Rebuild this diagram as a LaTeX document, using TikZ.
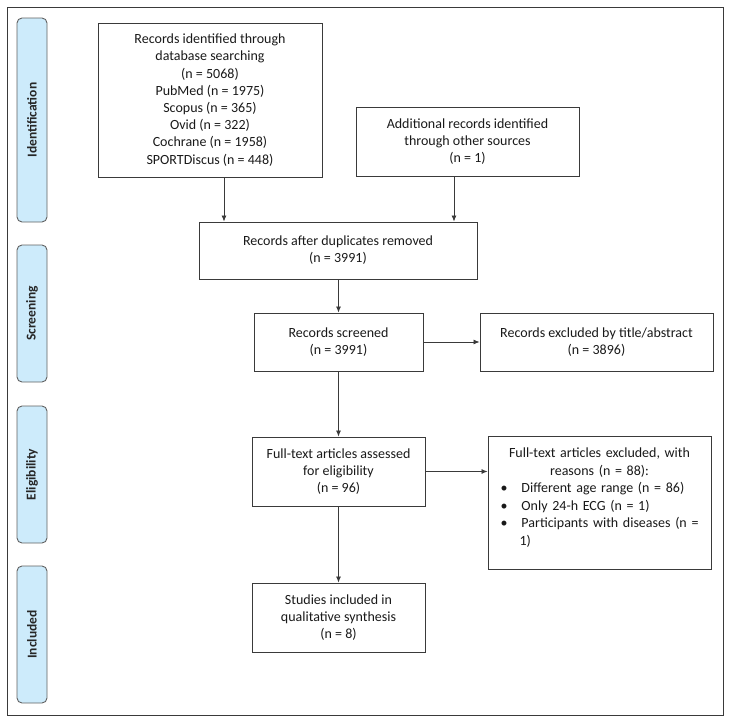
\documentclass[tikz,border=0pt]{standalone}
\usepackage{fontspec}
\setmainfont{Carlito}
\usetikzlibrary{arrows.meta}
\definecolor{tabblue}{HTML}{CDEBFB}
\definecolor{linegray}{HTML}{3A3A3A}

\begin{document}
\begin{tikzpicture}[x=1pt,y=-1pt,
    box/.style={draw=linegray, line width=0.9pt, align=center, inner sep=2pt,
        font=\fontsize{14}{17.2}\selectfont, text=black!90},
    tab/.style={draw=linegray!80, fill=tabblue, rounded corners=5pt, line width=0.9pt,
        rotate=90, minimum height=30pt, font=\bfseries\fontsize{13.5}{15}\selectfont, text=black!85},
    arr/.style={-{Latex[length=6pt,width=5pt]}, draw=linegray, line width=0.8pt}]
    \useasboundingbox (0,0) rectangle (733,723);

    % Outer frame
    \draw[linegray, line width=1pt] (7,7) rectangle (723,715);

    % Phase tabs
    \node[tab, minimum width=204pt] (tabid) at (32,120) {Identification};
    \node[tab, minimum width=137pt] (tabscr) at (32,313.5) {Screening};
    \node[tab, minimum width=137pt] (tabelig) at (32,474.5) {Eligibility};
    \node[tab, minimum width=137pt] (tabincl) at (32,634.5) {Included};

    % Identification
    \node[box, minimum width=224pt, minimum height=154pt] (dbsearch) at (210,100)
        {Records identified through\\ database searching\\ (n = 5068)\\ PubMed (n = 1975)\\
         Scopus (n = 365)\\ Ovid (n = 322)\\ Cochrane (n = 1958)\\ SPORTDiscus (n = 448)};
    \node[box, minimum width=223pt, minimum height=69pt] (other) at (467.5,141.5)
        {Additional records identified\\ through other sources\\ (n = 1)};

    % Screening
    \node[box, minimum width=278pt, minimum height=57pt] (dupl) at (338,250.5)
        {Records after duplicates removed\\ (n = 3991)};
    \node[box, minimum width=169pt, minimum height=58pt] (screened) at (338.5,342)
        {Records screened\\ (n = 3991)};
    \node[box, minimum width=233pt, minimum height=58pt] (exclabs) at (596.5,342)
        {Records excluded by title/abstract\\ (n = 3896)};

    % Eligibility
    \node[box, minimum width=173pt, minimum height=69pt] (fulltext) at (338.5,471.5)
        {Full-text articles assessed\\ for eligibility\\ (n = 96)};
    \node[box, minimum width=223pt, minimum height=133pt] (exclfull) at (599.5,502.5) {};
    \node[anchor=north, text width=210pt, inner sep=0pt, align=left,
        font=\fontsize{14}{17.6}\selectfont, text=black!90] (exclreasons)
        at ([yshift=-12pt]exclfull.north)
        {\centering Full-text articles excluded, with\\ reasons (n = 88):\par
         \raggedright
         \hspace*{6pt}\textbullet\hspace{14pt}Different age range (n = 86)\\
         \hspace*{6pt}\textbullet\hspace{14pt}Only 24-h ECG (n = 1)\\
         \hspace*{6pt}\textbullet\hspace{14pt}Participants with diseases (n =\\
         \hspace*{25pt}1)};

    % Included
    \node[box, minimum width=173pt, minimum height=69pt] (studies) at (338.5,617.5)
        {Studies included in\\ qualitative synthesis\\ (n = 8)};

    % Arrows
    \draw[arr] ([xshift=14pt]dbsearch.south) -- ([xshift=14pt]dbsearch.south |- dupl.north);
    \draw[arr] ([xshift=-13.5pt]other.south) -- ([xshift=-13.5pt]other.south |- dupl.north);
    \draw[arr] (screened.north |- dupl.south) -- (screened.north);
    \draw[arr] (screened.east) -- (exclabs.west);
    \draw[arr] (screened.south) -- (fulltext.north);
    \draw[arr] (fulltext.east) -- (fulltext.east -| exclfull.west);
    \draw[arr] (fulltext.south) -- (studies.north);
\end{tikzpicture}
\end{document}
